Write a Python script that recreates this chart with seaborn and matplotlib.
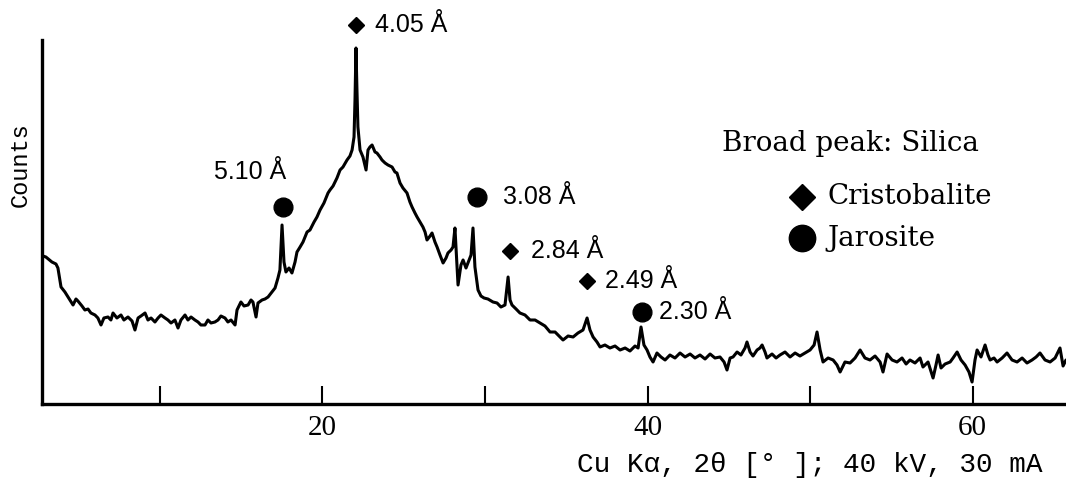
import matplotlib
matplotlib.use("Agg")
import matplotlib.pyplot as plt
import seaborn as sns
import pandas as pd

# XRD trace (2-theta in degrees, counts in arbitrary units)
two_theta = [
    2.80, 2.98, 3.35, 3.60, 3.72, 3.91, 4.15, 4.34, 4.65, 4.83, 4.95, 5.20, 5.38, 5.57, 5.75, 6.00,
    6.18, 6.37, 6.55, 6.80, 6.98, 7.11, 7.35, 7.60, 7.78, 8.03, 8.28, 8.46, 8.65, 8.83, 9.08, 9.26,
    9.45, 9.69, 9.88, 10.06, 10.31, 10.49, 10.68, 10.92, 11.11, 11.29, 11.54, 11.72, 11.91, 12.15,
    12.34, 12.52, 12.77, 12.95, 13.14, 13.38, 13.57, 13.75, 14.00, 14.18, 14.37, 14.62, 14.74, 14.98,
    15.17, 15.42, 15.60, 15.72, 15.91, 16.03, 16.28, 16.46, 16.65, 16.89, 17.08, 17.26, 17.38, 17.51,
    17.63, 17.75, 17.94, 18.12, 18.31, 18.43, 18.62, 18.80, 19.05, 19.23, 19.48, 19.66, 19.85, 20.09,
    20.34, 20.46, 20.65, 20.89, 21.08, 21.26, 21.51, 21.69, 21.82, 21.94, 22.00, 22.06, 22.12, 22.18,
    22.31, 22.49, 22.68, 22.80, 22.92, 23.05, 23.23, 23.35, 23.54, 23.66, 23.85, 24.03, 24.28, 24.46,
    24.58, 24.77, 24.95, 25.20, 25.38, 25.51, 25.69, 25.82, 26.00, 26.18, 26.31, 26.43, 26.62, 26.74,
    26.92, 27.05, 27.23, 27.42, 27.60, 27.72, 27.91, 28.03, 28.15, 28.28, 28.34, 28.52, 28.65, 28.83,
    28.95, 29.14, 29.26, 29.38, 29.57, 29.75, 29.94, 30.18, 30.49, 30.74, 30.98, 31.23, 31.42, 31.54,
    31.66, 31.91, 32.15, 32.46, 32.77, 33.08, 33.38, 33.69, 34.00, 34.31, 34.62, 34.80, 35.11, 35.42,
    35.72, 36.03, 36.28, 36.46, 36.65, 36.89, 37.08, 37.38, 37.69, 38.00, 38.31, 38.62, 38.92, 39.23,
    39.42, 39.60, 39.78, 39.97, 40.15, 40.34, 40.58, 40.83, 41.08, 41.38, 41.69, 42.00, 42.31, 42.62,
    42.92, 43.23, 43.54, 43.85, 44.15, 44.46, 44.71, 44.89, 45.08, 45.26, 45.51, 45.75, 46.00, 46.12,
    46.31, 46.49, 46.74, 46.92, 47.05, 47.23, 47.35, 47.66, 47.91, 48.15, 48.46, 48.77, 49.08, 49.38,
    49.69, 50.00, 50.25, 50.43, 50.62, 50.80, 51.11, 51.42, 51.66, 51.85, 52.15, 52.46, 52.77, 53.08,
    53.38, 53.69, 54.00, 54.31, 54.49, 54.74, 55.05, 55.35, 55.66, 55.91, 56.15, 56.46, 56.77, 56.95,
    57.26, 57.57, 57.75, 57.88, 58.06, 58.31, 58.62, 58.80, 59.05, 59.29, 59.54, 59.78, 59.97, 60.15,
    60.28, 60.52, 60.77, 60.95, 61.08, 61.32, 61.51, 61.82, 62.12, 62.43, 62.74, 63.05, 63.35, 63.66,
    63.91, 64.15, 64.46, 64.77, 65.08, 65.38, 65.57, 65.75,
]
counts = [
    148, 147, 142, 140, 136, 117, 112, 107, 99, 105, 103, 98, 94, 95, 91, 89,
    86, 79, 86, 87, 84, 91, 86, 89, 84, 87, 83, 74, 86, 88, 91, 84,
    86, 82, 86, 89, 86, 84, 81, 84, 76, 84, 89, 84, 87, 84,
    82, 79, 79, 84, 81, 82, 84, 88, 86, 82, 84, 79, 94, 102,
    98, 99, 104, 102, 87, 101, 104, 105, 107, 112, 116, 126, 134, 179,
    142, 132, 136, 131, 142, 152, 157, 162, 172, 174, 182, 187, 194, 201,
    211, 214, 218, 226, 234, 237, 244, 248, 254, 267, 304, 356, 314, 277,
    254, 247, 234, 254, 257, 259, 252, 251, 247, 244, 241, 239, 237, 232,
    231, 221, 216, 211, 202, 197, 191, 187, 182, 177, 172, 164, 168, 171,
    162, 157, 149, 141, 146, 151, 154, 157, 176, 136, 119, 139, 144, 136,
    141, 149, 176, 137, 114, 108, 106, 105, 102, 101, 97, 99, 127, 104,
    99, 95, 91, 89, 84, 84, 81, 78, 72, 72, 67, 64, 68, 67,
    71, 74, 86, 74, 67, 62, 57, 59, 56, 58, 54, 56, 53, 58,
    56, 77, 59, 54, 47, 42, 51, 47, 44, 49, 46, 51, 47, 50,
    46, 49, 45, 50, 46, 47, 42, 34, 46, 47, 52, 49, 56, 62,
    52, 48, 54, 56, 59, 52, 46, 50, 46, 49, 52, 47, 51, 48,
    51, 54, 59, 72, 54, 42, 46, 44, 39, 32, 42, 41, 46, 54,
    46, 44, 48, 42, 32, 50, 44, 42, 46, 40, 44, 41, 46, 37,
    42, 26, 39, 49, 36, 40, 42, 46, 52, 44, 39, 32, 22, 44,
    54, 47, 59, 49, 44, 46, 42, 46, 51, 44, 42, 46, 41, 44,
    47, 51, 44, 42, 46, 56, 38, 44,
]

# peak labels: d-spacing, phase, marker position
peak_labels = ["4.05 Å", "2.84 Å", "2.49 Å", "5.10 Å", "3.08 Å", "2.30 Å"]
peak_phase = ["Cristobalite", "Cristobalite", "Cristobalite", "Jarosite", "Jarosite", "Jarosite"]
peak_x = [22.06, 31.54, 36.28, 17.57, 29.51, 39.66]
peak_y = [379, 153, 123, 197, 207, 92]

df = pd.DataFrame({"two_theta": two_theta, "counts": counts})

sns.set_style("white")
plt.rcParams["font.family"] = ["Liberation Sans", "DejaVu Sans"]
plt.rcParams["text.color"] = "black"

fig = plt.figure(figsize=(10.66, 4.79), dpi=100)
ax = fig.add_axes([42 / 1066, 75 / 479, 1024 / 1066, 364 / 479])

sns.lineplot(data=df, x="two_theta", y="counts", color="black", linewidth=2.2, ax=ax)

ax.set_xlim(2.74, 65.75)
ax.set_ylim(0, 364)

# peak markers and labels
for lab, ph, x, y in zip(peak_labels, peak_phase, peak_x, peak_y):
    if ph == "Cristobalite":
        ax.plot(x, y, marker="D", ms=7.8, color="black", clip_on=False)
    else:
        ax.plot(x, y, marker="o", ms=13.5, color="black", clip_on=False)
    if lab == "5.10 Å":
        ax.annotate(lab, (x, y), xytext=(-24, 25), textcoords="offset points",
                    ha="center", va="center", fontsize=18, color="black",
                    annotation_clip=False)
    else:
        off = {"4.05 Å": 14, "3.08 Å": 19, "2.84 Å": 15, "2.49 Å": 13, "2.30 Å": 12}[lab]
        ax.annotate(lab, (x, y), xytext=(off, 0), textcoords="offset points",
                    ha="left", va="center", fontsize=18, color="black",
                    annotation_clip=False)

# key in the upper right
ax.text(0.664, 0.717, "Broad peak: Silica", transform=ax.transAxes,
        fontsize=20, family="DejaVu Serif", ha="left", va="center", color="black")
ax.plot(0.742, 0.569, marker="D", ms=13.5, color="black", transform=ax.transAxes)
ax.plot(0.742, 0.456, marker="o", ms=19, color="black", transform=ax.transAxes)
ax.text(0.767, 0.569, "Cristobalite", transform=ax.transAxes,
        fontsize=20, family="DejaVu Serif", ha="left", va="center", color="black")
ax.text(0.767, 0.456, "Jarosite", transform=ax.transAxes,
        fontsize=20, family="DejaVu Serif", ha="left", va="center", color="black")

# axes styling
for side in ["top", "right"]:
    ax.spines[side].set_visible(False)
for side in ["left", "bottom"]:
    ax.spines[side].set_linewidth(2.4)
    ax.spines[side].set_color("black")

ax.set_xticks([10, 20, 30, 40, 50, 60])
ax.set_xticklabels(["", "20", "", "40", "", "60"], family="Liberation Serif")
ax.tick_params(axis="x", bottom=True, direction="in", length=13, width=1.5, pad=8,
               colors="black", labelsize=21)
ax.set_yticks([])
ax.set_xlabel("")
ax.set_ylabel("")

fig.text(0.019, 0.656, "Counts", rotation=90, ha="center", va="center",
         family="Liberation Mono", fontsize=17, color="black")
fig.text(0.978, 0.029, "Cu Kα, 2θ [° ]; 40 kV, 30 mA", ha="right", va="center",
         family="Liberation Mono", fontsize=20, color="black")

fig.savefig("out.png", dpi=100)
